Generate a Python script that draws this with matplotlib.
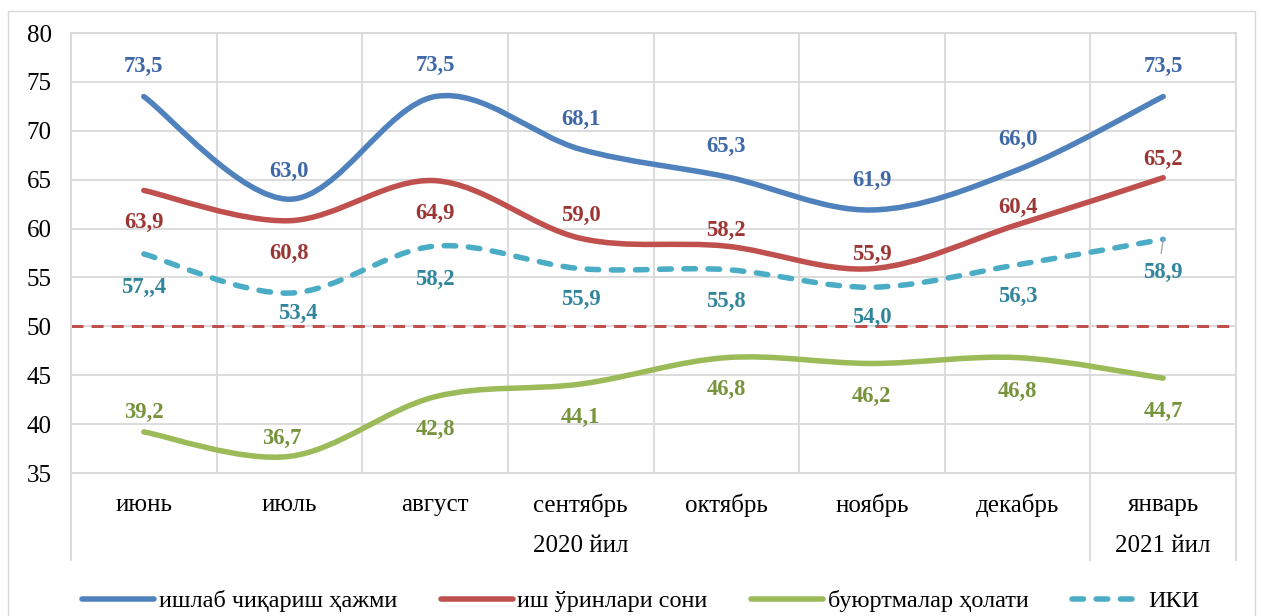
import numpy as np
import matplotlib
matplotlib.use("Agg")
import matplotlib.pyplot as plt
from matplotlib.path import Path
from matplotlib.patches import PathPatch, Rectangle
from matplotlib.lines import Line2D

plt.rcParams['font.family'] = ['Liberation Serif', 'DejaVu Serif']

# ── Ma'lumotlar ────────────────────────────────────────────
oylar = ['июнь', 'июль', 'август', 'сентябрь', 'октябрь', 'ноябрь',
         'декабрь', 'январь']
yillar = ['2020 йил', '2021 йил']
yil_oylar_soni = [7, 1]

ishlab_chiqarish = [73.5, 63.0, 73.5, 68.1, 65.3, 61.9, 66.0, 73.5]
ish_orinlari = [63.9, 60.8, 64.9, 59.0, 58.2, 55.9, 60.4, 65.2]
buyurtmalar = [39.2, 36.7, 42.8, 44.1, 46.8, 46.2, 46.8, 44.7]
iki = [57.4, 53.4, 58.2, 55.9, 55.8, 54.0, 56.3, 58.9]
chegara = 50

nomlar = ['ишлаб чиқариш ҳажми', 'иш ўринлари сони',
          'буюртмалар ҳолати', 'ИКИ']

# ── Ko'rinish sozlamalari ──────────────────────────────────
chiziq_rang = ['#4F81BD', '#C0504D', '#9BBB59', '#4BACC6']
yozuv_rang = ['#3E68A6', '#9B3634', '#77933C', '#31859C']
# yozuv siljishi (piksel, musbat = pastga)
yozuv_dy = [
    [-30, -28, -31, -30, -30, -30, -30, -30],
    [32, 33, 33, -23, -16, -14, -17, -18],
    [-19, -18, 33, 33, 32, 33, 34, 33],
    [33, 20, 33, 31, 32, 30, 32, 33],
]
yozuv_dx = [
    [0, 0, 0, 0, 0, 0, 0, 0],
    [0, 0, 0, 0, 0, 0, 0, 0],
    [0, -8, 0, 0, 0, 0, 0, 0],
    [0, 8, 0, 0, 0, 0, 0, 0],
]
PX = 0.72  # 1 piksel = 0.72 pt (dpi=100)
LW = 5.5 * PX
IKI_DASH = (2.1, 2.3)


def silliq_yol(x, y):
    """Excel uslubidagi silliq chiziq (Bezier egri)."""
    x = np.asarray(x, float)
    y = np.asarray(y, float)
    n = len(x)
    verts = [(x[0], y[0])]
    codes = [Path.MOVETO]
    for i in range(n - 1):
        i0 = max(i - 1, 0)
        i3 = min(i + 2, n - 1)
        c1 = (x[i] + (x[i + 1] - x[i0]) / 6, y[i] + (y[i + 1] - y[i0]) / 6)
        c2 = (x[i + 1] - (x[i3] - x[i]) / 6, y[i + 1] - (y[i3] - y[i]) / 6)
        verts += [c1, c2, (x[i + 1], y[i + 1])]
        codes += [Path.CURVE4] * 3
    return Path(verts, codes)


fig = plt.figure(figsize=(12.61, 6.16), dpi=100)
ax = fig.add_axes([71 / 1261, 1 - 473 / 616, (1236 - 71) / 1261, 440 / 616])

x = np.arange(len(oylar))
ax.set_xlim(-0.5, len(oylar) - 0.5)
ax.set_ylim(35, 80)
ax.set_yticks(np.arange(35, 81, 5))
ax.set_xticks(x)
ax.set_xticklabels(oylar)
ax.set_xticks(np.arange(-0.5, len(oylar), 1), minor=True)
ax.tick_params(axis='both', which='both', length=0)
ax.tick_params(axis='y', labelsize=18, pad=14)
ax.tick_params(axis='x', labelsize=18, pad=15)

ax.grid(True, axis='y', color='#D9D9D9', lw=1.3)
ax.grid(True, axis='x', which='minor', color='#D9D9D9', lw=1.3)
for s in ax.spines.values():
    s.set_color('#D9D9D9')
    s.set_linewidth(1.3)
ax.set_axisbelow(True)

# 50 chegarasi
ax.axhline(chegara, color='#C0504D', lw=3 * PX, dashes=(4, 2.7), zorder=2)

seriyalar = [ishlab_chiqarish, ish_orinlari, buyurtmalar, iki]
for k, qiymat in enumerate(seriyalar):
    patch = PathPatch(silliq_yol(x, qiymat), fill=False,
                      edgecolor=chiziq_rang[k], lw=LW, zorder=3)
    patch.set_capstyle('round')
    patch.set_joinstyle('round')
    if k == 3:
        patch.set_linestyle((0, IKI_DASH))
    ax.add_patch(patch)
    for i, v in enumerate(qiymat):
        matn = f'{v:.1f}'.replace('.', ',')
        if k == 3 and i == 0:
            matn = '57,,4'
        ax.annotate(matn, (i, v),
                    xytext=(yozuv_dx[k][i] * PX, -yozuv_dy[k][i] * PX),
                    textcoords='offset points', ha='center', va='center',
                    fontsize=16.3, fontweight='bold', color=yozuv_rang[k],
                    zorder=4)

# 58,9 uchun kichik yo'naltiruvchi chiziq
ax.annotate('', xy=(len(iki) - 1, iki[-1]), xytext=(-2 * PX, -14 * PX),
            textcoords='offset points',
            arrowprops=dict(arrowstyle='-', color='#A6A6A6', lw=1,
                            shrinkA=0, shrinkB=0),
            zorder=4)

# yil yozuvlari va ajratuvchilar
tr = ax.get_xaxis_transform()
y_yil = (1 - 546 / 616 - (1 - 473 / 616)) / (440 / 616)
y_past = (1 - 560 / 616 - (1 - 473 / 616)) / (440 / 616)
bosh = -0.5
chegaralar = [bosh]
for nom, soni in zip(yillar, yil_oylar_soni):
    ax.text(bosh + soni / 2, y_yil, nom, transform=tr, ha='center',
            va='center', fontsize=18)
    bosh += soni
    chegaralar.append(bosh)
for c in chegaralar:
    ax.plot([c, c], [0, y_past], transform=tr, color='#D9D9D9', lw=1.3,
            clip_on=False)

# legend
qollar = []
for k in range(4):
    if k == 3:
        qollar.append(Line2D([], [], color=chiziq_rang[k], lw=LW,
                             dashes=IKI_DASH, dash_capstyle='round'))
    else:
        qollar.append(Line2D([], [], color=chiziq_rang[k], lw=LW,
                             solid_capstyle='round'))
fig.legend(qollar, nomlar, loc='center',
           bbox_to_anchor=(641 / 1261, 1 - 601 / 616),
           ncol=4, frameon=False, fontsize=17.5, handlelength=2.96,
           handletextpad=0.2, columnspacing=1.78)

# tashqi ramka
fig.patches.append(Rectangle((8 / 1261, -0.05), (1255 - 8) / 1261,
                             (616 - 11) / 616 + 0.05,
                             transform=fig.transFigure, fill=False,
                             edgecolor='#D9D9D9', lw=1))

fig.savefig('out.png', dpi=100)
